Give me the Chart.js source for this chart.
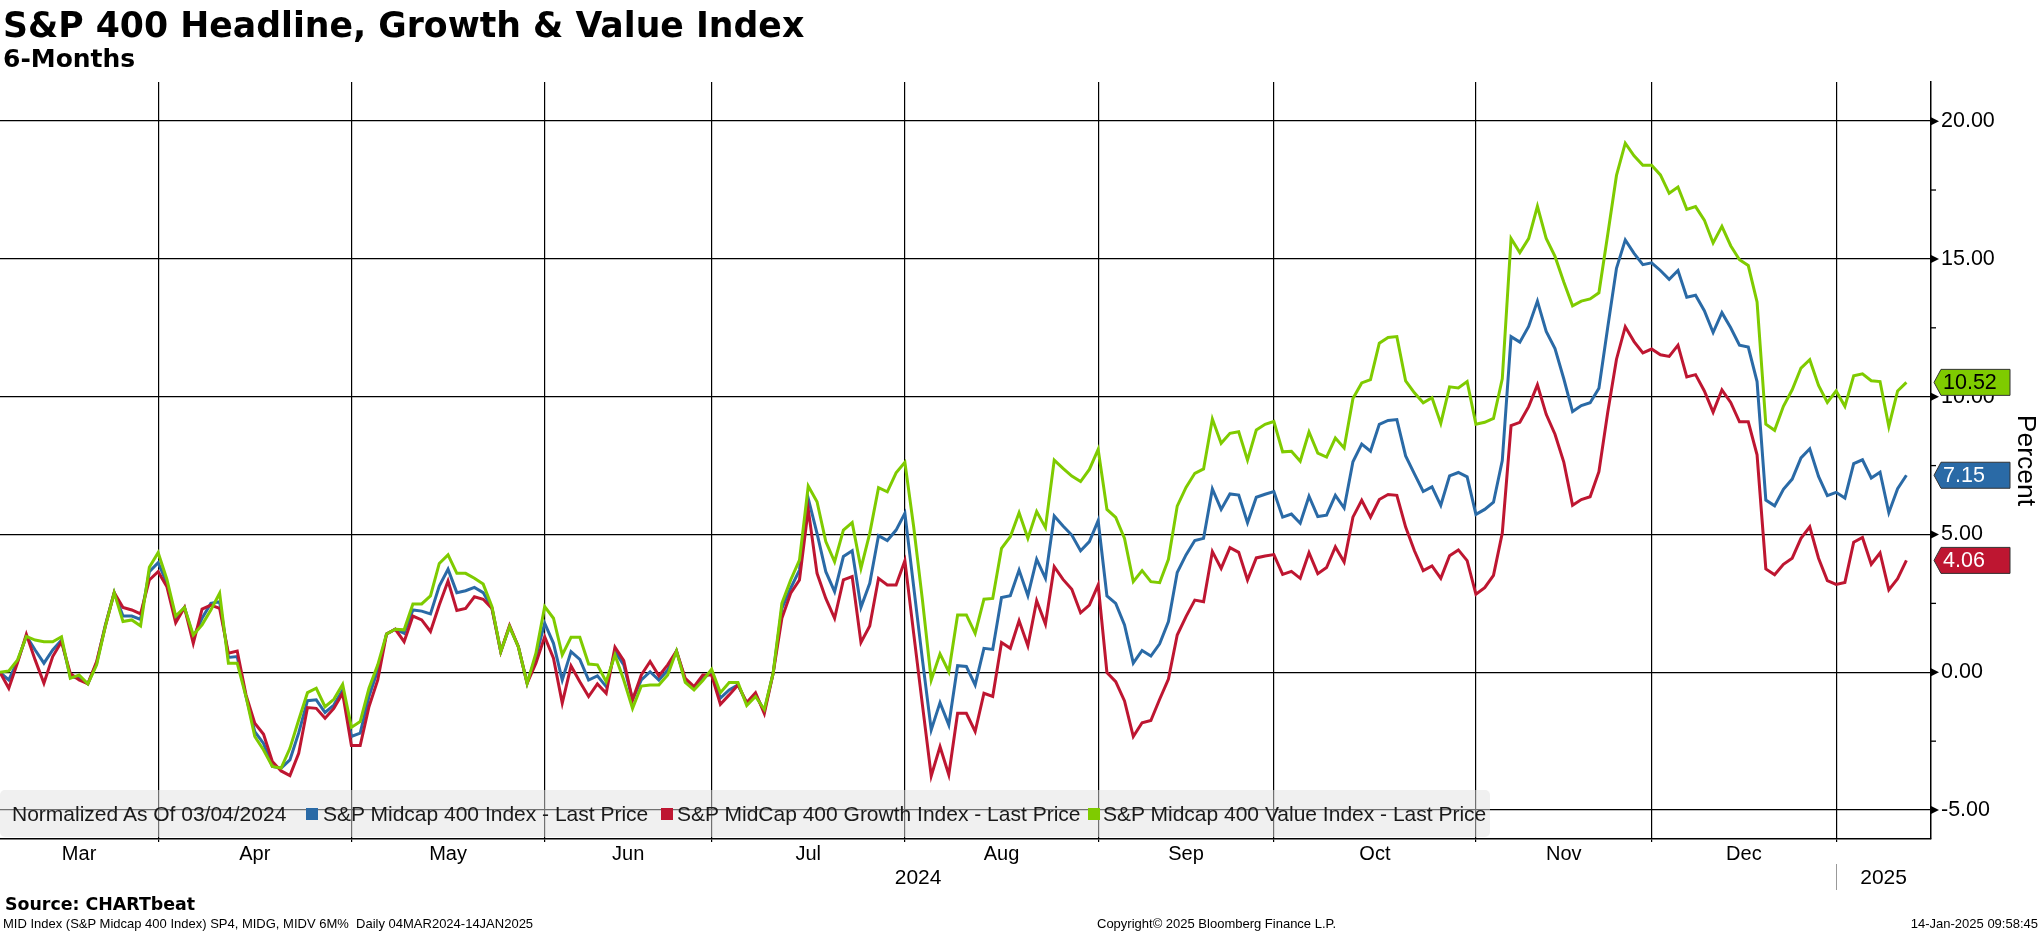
<!DOCTYPE html>
<html>
<head>
<meta charset="utf-8">
<script src="https://cdn.jsdelivr.net/npm/chart.js@4.4.1/dist/chart.umd.min.js"></script>
<style>
  html, body { margin: 0; padding: 0; background: #fff; }
  #wrap { position: relative; width: 2041px; height: 932px; overflow: hidden; }
  #chart { position: absolute; left: 0; top: 0; }
  .txt { position: absolute; white-space: pre; color: #000; }
  .title { font: bold 34.7px "DejaVu Sans", sans-serif; line-height: 1; left: 3px; top: 8px; }
  .sub { font: bold 25px "DejaVu Sans", sans-serif; line-height: 1; left: 3px; top: 46px; }
  .src { font: bold 17.4px "DejaVu Sans", sans-serif; line-height: 1; left: 5px; top: 896px; }
  .foot { font: 13px "Liberation Sans", sans-serif; line-height: 1; top: 917px; }
  #legend { position: absolute; left: 0; top: 790px; width: 1490px; height: 47px;
    background: rgba(226,226,226,0.5); border-radius: 5px; }
  #legend span { position: absolute; top: 0; font: 21px "Liberation Sans", sans-serif; line-height: 47px; color: #1a1a1a; white-space: pre; }
  #legend i { position: absolute; top: 18px; width: 12px; height: 12px; }
</style>
</head>
<body>
<div id="wrap">
  <canvas id="chart" width="2041" height="932"></canvas>
  <div class="txt title">S&amp;P 400 Headline, Growth &amp; Value Index</div>
  <div class="txt sub">6-Months</div>
  <div id="legend">
    <span style="left:12px">Normalized As Of 03/04/2024</span>
    <i style="left:306px;background:#2a6aa6"></i><span style="left:323px">S&amp;P Midcap 400 Index - Last Price</span>
    <i style="left:661px;background:#be1631"></i><span style="left:677px">S&amp;P MidCap 400 Growth Index - Last Price</span>
    <i style="left:1088px;background:#7fcb00"></i><span style="left:1103px">S&amp;P Midcap 400 Value Index - Last Price</span>
  </div>
  <div class="txt src">Source: CHARTbeat</div>
  <div class="txt foot" style="left:3px">MID Index (S&amp;P Midcap 400 Index) SP4, MIDG, MIDV 6M%  Daily 04MAR2024-14JAN2025</div>
  <div class="txt foot" style="left:1097px">Copyright© 2025 Bloomberg Finance L.P.</div>
  <div class="txt foot" style="right:3px">14-Jan-2025 09:58:45</div>
</div>
<script>
// trading days 04 Mar 2024 .. 14 Jan 2025, % change since 03/04/2024
var midcap = [0,-0.28,0.4,1.32,0.81,0.33,0.81,1.17,-0.16,-0.22,
-0.42,0.33,1.72,2.89,2.04,2.04,1.92,3.65,3.98,3.23,
1.96,2.35,1.27,1.96,2.5,2.56,0.54,0.57,-0.88,-2.15,
-2.58,-3.42,-3.48,-3.18,-2.2,-1.03,-1.0,-1.46,-1.19,-0.64,
-2.33,-2.21,-0.88,0.08,1.39,1.56,1.42,2.26,2.22,2.12,
3.13,3.74,2.89,2.96,3.08,2.89,2.32,0.75,1.66,0.93,
-0.4,0.57,1.78,1.05,-0.28,0.75,0.47,-0.28,-0.13,-0.52,
0.75,0.27,-1.0,-0.28,0.02,-0.28,0.08,0.77,-0.28,-0.58,
-0.22,-0.01,-0.94,-0.64,-0.46,-1.12,-0.82,-1.4,-0.04,2.32,
3.05,3.71,6.31,5.04,3.65,2.93,4.2,4.41,2.36,3.23,
4.96,4.78,5.16,5.77,3.11,0.45,-2.09,-1.1,-1.91,0.24,
0.21,-0.46,0.87,0.83,2.71,2.78,3.71,2.78,4.1,3.41,
5.67,5.31,4.98,4.41,4.74,5.5,2.77,2.5,1.72,0.33,
0.79,0.59,1.03,1.84,3.62,4.26,4.78,4.86,6.65,5.91,
6.47,6.43,5.43,6.35,6.46,6.56,5.63,5.74,5.41,6.39,
5.65,5.7,6.42,5.96,7.64,8.28,8.02,9.0,9.14,9.17,
7.85,7.2,6.56,6.73,6.06,7.13,7.25,7.09,5.73,5.91,
6.17,7.68,12.18,11.98,12.55,13.47,12.37,11.75,10.65,9.46,
9.68,9.78,10.31,12.51,14.66,15.69,15.2,14.79,14.86,14.58,
14.26,14.58,13.61,13.68,13.12,12.33,13.05,12.5,11.87,11.8,
10.55,6.25,6.04,6.64,7.01,7.78,8.11,7.11,6.41,6.53,
6.32,7.57,7.71,7.05,7.26,5.79,6.66,7.15];

var growth = [0,-0.58,0.35,1.38,0.45,-0.4,0.57,1.11,-0.04,-0.28,
-0.42,0.39,1.68,2.89,2.35,2.26,2.12,3.35,3.65,3.1,
1.8,2.35,1.05,2.29,2.44,2.32,0.69,0.77,-0.82,-1.85,
-2.25,-3.24,-3.58,-3.75,-2.94,-1.28,-1.31,-1.67,-1.31,-0.76,
-2.66,-2.66,-1.25,-0.28,1.39,1.56,1.11,2.04,1.9,1.48,
2.44,3.31,2.24,2.32,2.74,2.65,2.32,0.75,1.7,0.93,
-0.4,0.33,1.29,0.51,-1.12,0.23,-0.34,-0.88,-0.42,-0.76,
0.91,0.42,-1.0,-0.1,0.39,-0.13,0.27,0.77,-0.22,-0.52,
-0.1,-0.1,-1.16,-0.82,-0.46,-1.1,-0.74,-1.5,-0.04,1.96,
2.87,3.35,5.91,3.59,2.68,1.96,3.35,3.47,1.08,1.68,
3.41,3.17,3.17,4.05,1.41,-1.19,-3.76,-2.7,-3.72,-1.49,
-1.49,-2.15,-0.76,-0.88,1.08,0.87,1.87,0.96,2.6,1.75,
3.83,3.37,3.01,2.16,2.44,3.17,-0.01,-0.34,-1.04,-2.33,
-1.83,-1.75,-0.98,-0.25,1.35,2.02,2.62,2.56,4.38,3.77,
4.52,4.35,3.35,4.15,4.22,4.27,3.55,3.66,3.41,4.34,
3.58,3.8,4.55,4.0,5.63,6.24,5.63,6.27,6.45,6.42,
5.27,4.41,3.69,3.86,3.41,4.23,4.44,4.05,2.83,3.07,
3.52,5.05,8.95,9.07,9.64,10.43,9.36,8.64,7.63,6.06,
6.27,6.37,7.28,9.43,11.36,12.54,12.0,11.59,11.73,11.52,
11.46,11.87,10.72,10.8,10.21,9.44,10.25,9.79,9.09,9.09,
7.89,3.75,3.54,3.92,4.14,4.86,5.28,4.14,3.33,3.19,
3.26,4.72,4.89,3.92,4.33,2.99,3.4,4.06];

var value = [0,0.05,0.45,1.3,1.17,1.11,1.11,1.29,-0.22,-0.1,
-0.42,0.27,1.68,2.89,1.84,1.9,1.68,3.81,4.34,3.37,
2.04,2.35,1.35,1.72,2.26,2.87,0.33,0.33,-0.88,-2.33,
-2.82,-3.42,-3.48,-2.76,-1.73,-0.74,-0.58,-1.25,-0.98,-0.44,
-2.0,-1.79,-0.58,0.27,1.39,1.56,1.54,2.48,2.48,2.77,
3.95,4.26,3.59,3.59,3.41,3.2,2.38,0.75,1.66,0.93,
-0.4,0.69,2.38,1.96,0.63,1.27,1.27,0.3,0.27,-0.34,
0.63,-0.28,-1.31,-0.5,-0.46,-0.46,-0.1,0.77,-0.37,-0.64,
-0.3,0.11,-0.74,-0.37,-0.37,-1.21,-0.88,-1.35,-0.04,2.5,
3.35,4.07,6.76,6.19,4.74,4.01,5.16,5.43,3.77,5.04,
6.7,6.55,7.24,7.62,5.28,2.62,-0.28,0.67,0.02,2.08,
2.08,1.41,2.65,2.68,4.5,4.92,5.79,4.86,5.83,5.25,
7.7,7.4,7.12,6.92,7.36,8.09,5.91,5.62,4.86,3.29,
3.69,3.29,3.25,4.1,6.03,6.71,7.22,7.38,9.19,8.31,
8.67,8.73,7.7,8.79,9.0,9.1,8.0,8.02,7.66,8.72,
7.95,7.81,8.5,8.14,9.93,10.5,10.62,11.94,12.15,12.18,
10.57,10.14,9.78,9.96,9.03,10.36,10.32,10.55,9.0,9.07,
9.21,10.65,15.74,15.23,15.74,16.91,15.74,15.09,14.16,13.3,
13.47,13.55,13.77,15.88,18.03,19.2,18.74,18.4,18.4,18.05,
17.38,17.61,16.8,16.9,16.41,15.58,16.18,15.48,14.97,14.76,
13.44,9.0,8.78,9.65,10.25,11.04,11.34,10.41,9.79,10.21,
9.65,10.76,10.83,10.58,10.55,8.92,10.21,10.52];

// index of the last trading day of each month (vertical grid lines)
var monthEnds = [18, 40, 62, 81, 103, 125, 145, 168, 188, 209];
var monthLabels = ['Mar', 'Apr', 'May', 'Jun', 'Jul', 'Aug', 'Sep', 'Oct', 'Nov', 'Dec'];
var yearLabels = ['2024', '2025'];
var yTicks = [-5, -2.5, 0, 2.5, 5, 7.5, 10, 12.5, 15, 17.5, 20];

var BLUE = '#2a6aa6', RED = '#be1631', GREEN = '#7fcb00';
var LABEL_FONT = '"Liberation Sans", Arial, sans-serif';

function pts(arr) {
  return arr.map(function (v, i) { return { x: i, y: v }; });
}
function isMajor(v) { return Math.abs(v % 5) < 1e-9; }

var axisExtras = {
  id: 'axisExtras',
  afterDraw: function (chart) {
    var ctx = chart.ctx, xs = chart.scales.x, ys = chart.scales.y, area = chart.chartArea;
    ctx.save();
    // arrow ticks & minor ticks on right axis
    ctx.fillStyle = '#000';
    ctx.strokeStyle = '#000';
    ctx.lineWidth = 1.3;
    yTicks.forEach(function (v) {
      var y = ys.getPixelForValue(v);
      if (isMajor(v)) {
        ctx.beginPath();
        ctx.moveTo(area.right, y - 4);
        ctx.lineTo(area.right + 8, y);
        ctx.lineTo(area.right, y + 4);
        ctx.closePath();
        ctx.fill();
      } else {
        ctx.beginPath();
        ctx.moveTo(area.right, y);
        ctx.lineTo(area.right + 5, y);
        ctx.stroke();
      }
    });
    // month labels
    ctx.font = '20px ' + LABEL_FONT;
    ctx.textAlign = 'center';
    ctx.textBaseline = 'middle';
    monthLabels.forEach(function (m, i) {
      var from = i === 0 ? xs.min : monthEnds[i - 1];
      var to = monthEnds[i];
      var cx = (xs.getPixelForValue(from) + xs.getPixelForValue(to)) / 2;
      ctx.fillText(m, cx, area.bottom + 15);
    });
    // year labels
    ctx.font = '21px ' + LABEL_FONT;
    var split = monthEnds[monthEnds.length - 1];
    var xSplit = xs.getPixelForValue(split);
    ctx.fillText(yearLabels[0], (xs.getPixelForValue(xs.min) + xSplit) / 2, area.bottom + 39);
    ctx.fillText(yearLabels[1], (xSplit + xs.getPixelForValue(xs.max)) / 2, area.bottom + 39);
    ctx.strokeStyle = '#999';
    ctx.lineWidth = 1;
    ctx.beginPath();
    ctx.moveTo(Math.round(xSplit) + 0.5, area.bottom + 25);
    ctx.lineTo(Math.round(xSplit) + 0.5, area.bottom + 51);
    ctx.stroke();

    // last value badges
    ctx.font = '21.5px ' + LABEL_FONT;
    ctx.textAlign = 'left';
    chart.data.datasets.forEach(function (ds) {
      var last = ds.data[ds.data.length - 1].y;
      var y = ys.getPixelForValue(last);
      var x0 = area.right + 3, x1 = area.right + 10, x2 = area.right + 79, h = 13;
      ctx.beginPath();
      ctx.moveTo(x0, y);
      ctx.lineTo(x1, y - h);
      ctx.lineTo(x2, y - h);
      ctx.lineTo(x2, y + h);
      ctx.lineTo(x1, y + h);
      ctx.closePath();
      ctx.fillStyle = ds.borderColor;
      ctx.fill();
      ctx.strokeStyle = '#333';
      ctx.lineWidth = 1;
      ctx.stroke();
      ctx.fillStyle = ds.badgeText;
      ctx.fillText(last.toFixed(2), area.right + 12, y + 1);
    });
    ctx.restore();
  }
};

new Chart(document.getElementById('chart'), {
  type: 'line',
  data: {
    datasets: [
      { label: 'S&P Midcap 400 Value Index - Last Price', data: pts(value), borderColor: GREEN, badgeText: '#000', order: 0 },
      { label: 'S&P MidCap 400 Growth Index - Last Price', data: pts(growth), borderColor: RED, badgeText: '#fff', order: 1 },
      { label: 'S&P Midcap 400 Index - Last Price', data: pts(midcap), borderColor: BLUE, badgeText: '#fff', order: 2 }
    ]
  },
  options: {
    responsive: false,
    devicePixelRatio: 1,
    animation: false,
    layout: { padding: { top: 82, left: 0, right: 0, bottom: 0 } },
    elements: {
      line: { borderWidth: 3, tension: 0, fill: false },
      point: { radius: 0 }
    },
    plugins: { legend: { display: false }, tooltip: { enabled: false } },
    scales: {
      x: {
        type: 'linear',
        min: 0,
        max: 219.8,
        position: 'bottom',
        afterBuildTicks: function (s) { s.ticks = monthEnds.map(function (v) { return { value: v }; }); },
        afterFit: function (s) { s.height = 93; },
        ticks: { display: false },
        grid: { color: '#000', lineWidth: 1.2, drawTicks: true, tickLength: 3 },
        border: { color: '#000', width: 1.5 }
      },
      y: {
        type: 'linear',
        position: 'right',
        min: -6.05,
        max: 21.42,
        afterBuildTicks: function (s) { s.ticks = yTicks.map(function (v) { return { value: v }; }); },
        afterFit: function (s) { s.width = 110; },
        ticks: {
          padding: 10,
          color: '#000',
          font: { family: LABEL_FONT, size: 21.5 },
          callback: function (v) { return isMajor(v) ? v.toFixed(2) : ''; }
        },
        grid: {
          drawTicks: false,
          lineWidth: 1.3,
          color: function (c) { return c.tick && isMajor(c.tick.value) ? '#000' : 'rgba(0,0,0,0)'; }
        },
        border: { color: '#000', width: 1.5 },
        title: {
          display: true,
          text: 'Percent',
          color: '#000',
          font: { family: LABEL_FONT, size: 26.5 },
          padding: { top: 0, bottom: 0 }
        }
      }
    }
  },
  plugins: [axisExtras]
});
</script>
</body>
</html>
